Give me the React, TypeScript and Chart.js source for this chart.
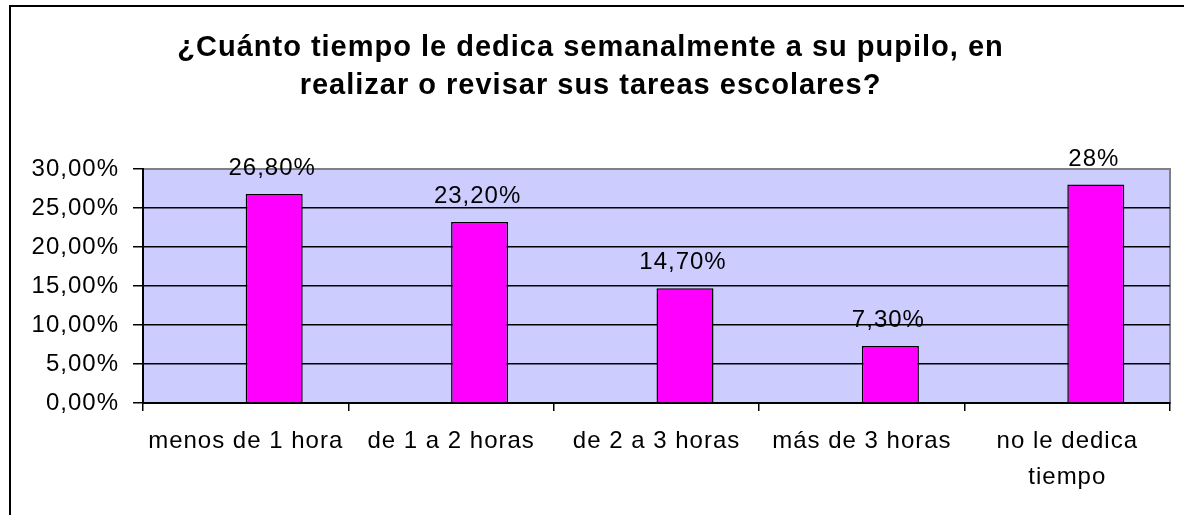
import React, { useEffect, useRef } from 'react';
import { Chart, registerables } from 'chart.js';

Chart.register(...registerables);

const titleLines = [
  '¿Cuánto tiempo le dedica semanalmente a su pupilo, en',
  'realizar o revisar sus tareas escolares?',
];
const categories: (string | string[])[] = [
  'menos de 1 hora',
  'de 1 a 2 horas',
  'de 2 a 3 horas',
  'más de 3 horas',
  ['no le dedica', 'tiempo'],
];
const emptySeries: (number | null)[] = [null, null, null, null, null];
const values = [0.268, 0.232, 0.147, 0.073, 0.28];
const valueLabels = ['26,80%', '23,20%', '14,70%', '7,30%', '28%'];
const yMin = 0;
const yMax = 0.3;
const yStep = 0.05;

const FONT = "'Liberation Sans', Arial, sans-serif";
const SPACING = '1px';

const spacingPlugin = {
  id: 'spacing',
  beforeLayout(chart: any) {
    chart.ctx.letterSpacing = SPACING;
  },
  beforeDraw(chart: any) {
    chart.ctx.letterSpacing = SPACING;
  },
};

const framePlugin = {
  id: 'frame',
  beforeDraw(chart: any) {
    const { ctx, chartArea } = chart;
    ctx.save();
    ctx.fillStyle = '#ffffff';
    ctx.fillRect(0, 0, chart.width, chart.height);
    ctx.fillStyle = '#000000';
    ctx.fillRect(9, 5, 2, chart.height - 5);
    ctx.fillRect(9, 5, chart.width - 9, 2);
    ctx.fillStyle = '#CCCCFF';
    ctx.fillRect(chartArea.left, chartArea.top, chartArea.right - chartArea.left, chartArea.bottom - chartArea.top);
    ctx.strokeStyle = '#808080';
    ctx.lineWidth = 2;
    ctx.strokeRect(chartArea.left, chartArea.top, chartArea.right - chartArea.left, chartArea.bottom - chartArea.top);
    ctx.restore();
  },
};

const labelPlugin = {
  id: 'valueLabels',
  afterDatasetsDraw(chart: any) {
    const { ctx } = chart;
    const meta = chart.getDatasetMeta(1);
    ctx.save();
    ctx.letterSpacing = SPACING;
    ctx.font = `24px ${FONT}`;
    ctx.fillStyle = '#000000';
    ctx.textAlign = 'center';
    ctx.textBaseline = 'alphabetic';
    meta.data.forEach((el: any, i: number) => {
      ctx.fillText(valueLabels[i], el.x - 2, el.y - 19);
    });
    ctx.restore();
  },
};

export default function App() {
  const ref = useRef<HTMLCanvasElement | null>(null);

  useEffect(() => {
    document.body.style.margin = '0';
    const canvas = ref.current;
    if (!canvas) return;
    const chart = new Chart(canvas, {
      type: 'bar',
      data: {
        labels: categories as any,
        datasets: [
          {
            data: emptySeries as any,
            backgroundColor: '#FF00FF',
            borderColor: '#000000',
            borderWidth: 1.5,
          },
          {
            data: values,
            backgroundColor: '#FF00FF',
            borderColor: '#000000',
            borderWidth: 1.5,
          },
        ],
      },
      options: {
        animation: false,
        responsive: false,
        devicePixelRatio: 1,
        layout: { padding: { left: 11, right: 14, top: 0, bottom: 0 } },
        datasets: {
          bar: {
            categoryPercentage: 0.555,
            barPercentage: 1,
          },
        },
        plugins: {
          legend: { display: false },
          tooltip: { enabled: false },
          title: {
            display: true,
            text: titleLines,
            color: '#000000',
            font: { family: FONT, size: 29, weight: 'bold', lineHeight: '38px' },
            padding: { top: 29, bottom: 64 },
          },
        },
        scales: {
          x: {
            grid: {
              display: true,
              drawOnChartArea: false,
              drawTicks: true,
              offset: true,
              tickLength: 8,
              color: '#000000',
              lineWidth: 1.5,
            },
            border: { display: true, color: '#000000', width: 2 },
            ticks: {
              color: '#000000',
              padding: 12,
              maxRotation: 0,
              autoSkip: false,
              font: { family: FONT, size: 24, lineHeight: '36px' },
            },
            afterFit: (s: any) => {
              s.height = 112;
            },
          },
          y: {
            min: yMin,
            max: yMax,
            grid: {
              color: (c: any) => (c.tick && c.tick.value >= yMax - 1e-9 ? '#808080' : '#000000'),
              tickColor: '#000000',
              tickLength: 10,
              lineWidth: 1.5,
            },
            border: { display: true, color: '#000000', width: 2 },
            ticks: {
              stepSize: yStep,
              color: '#000000',
              padding: 14,
              font: { family: FONT, size: 24 },
              callback: (v: any) => (Number(v) * 100).toFixed(2).replace('.', ',') + '%',
            },
            afterFit: (s: any) => {
              s.width = 132;
            },
          },
        },
      },
      plugins: [spacingPlugin, framePlugin, labelPlugin],
    } as any);
    return () => chart.destroy();
  }, []);

  return (
    <div style={{ position: 'absolute', left: 0, top: 0, width: 1184, height: 515, overflow: 'hidden' }}>
      <canvas ref={ref} width={1184} height={515} style={{ display: 'block' }} />
    </div>
  );
}
